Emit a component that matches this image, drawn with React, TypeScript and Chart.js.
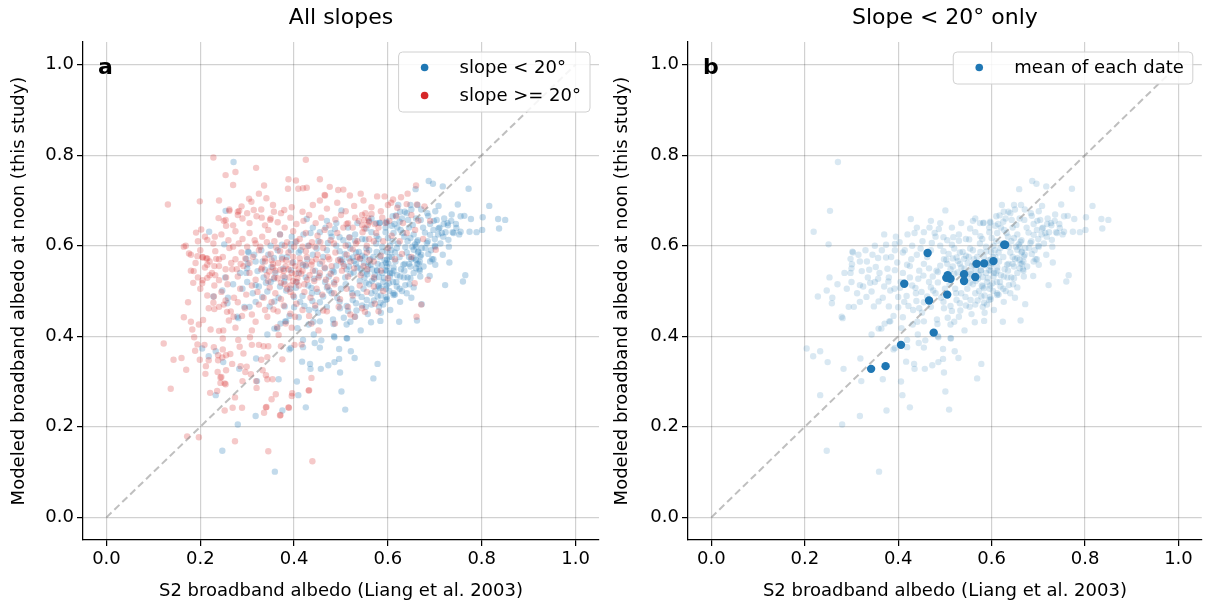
import React, { useEffect, useRef } from "react";
import { Chart, registerables } from "chart.js";

Chart.register(...registerables);

const FONT = "'DejaVu Sans', 'Liberation Sans', sans-serif";

const tickValues = [0, 0.2, 0.4, 0.6, 0.8, 1.0];
const axisMin = -0.05;
const axisMax = 1.05;
const xTitle = "S2 broadband albedo (Liang et al. 2003)";
const yTitle = "Modeled broadband albedo at noon (this study)";
const panelTitles = ["All slopes", "Slope < 20° only"];
const panelLetters = ["a", "b"];
const seriesLabels = ["slope < 20°", "slope >= 20°", "mean of each date"];
const diagonal: [number, number][] = [[0, 0], [1, 1]];

// Blue cloud: slope < 20° (shared by both panels)
const slopeBelow20: [number, number][] = [
  [0.271,0.785],[0.254,0.677],[0.219,0.631],[0.251,0.603],[0.303,0.585],[0.253,0.530],[0.247,0.501],[0.228,0.488],
  [0.259,0.485],[0.258,0.473],[0.281,0.440],[0.204,0.373],[0.218,0.356],[0.233,0.367],[0.249,0.343],[0.283,0.328],
  [0.319,0.351],[0.321,0.301],[0.367,0.305],[0.233,0.270],[0.280,0.205],[0.318,0.224],[0.375,0.236],[0.247,0.147],
  [0.359,0.101],[0.406,0.300],[0.409,0.270],[0.425,0.243],[0.434,0.339],[0.435,0.328],[0.457,0.328],[0.473,0.336],
  [0.486,0.343],[0.501,0.278],[0.509,0.238],[0.498,0.320],[0.521,0.367],[0.529,0.352],[0.578,0.339],[0.569,0.307],
  [0.444,0.385],[0.458,0.391],[0.486,0.398],[0.512,0.396],[0.542,0.413],[0.390,0.371],[0.364,0.417],[0.343,0.404],
  [0.417,0.344],[0.496,0.350],[0.496,0.372],[0.455,0.375],[0.442,0.404],[0.441,0.432],[0.455,0.433],[0.484,0.427],
  [0.512,0.426],[0.520,0.432],[0.485,0.400],[0.513,0.395],[0.564,0.431],[0.584,0.434],[0.393,0.374],[0.381,0.433],
  [0.419,0.376],[0.419,0.392],[0.624,0.432],[0.662,0.435],
  [0.427,0.659],[0.435,0.628],[0.501,0.678],[0.467,0.640],[0.478,0.628],[0.487,0.637],[0.497,0.619],[0.518,0.619],
  [0.530,0.611],[0.554,0.638],[0.565,0.660],[0.582,0.650],[0.597,0.653],[0.576,0.621],[0.552,0.614],[0.403,0.608],
  [0.374,0.602],[0.393,0.604],[0.472,0.606],[0.448,0.594],[0.414,0.590],[0.393,0.590],[0.302,0.587],[0.357,0.573],
  [0.374,0.574],[0.298,0.571],[0.333,0.565],[0.301,0.559],[0.298,0.540],[0.322,0.544],[0.338,0.547],[0.352,0.553],
  [0.377,0.549],[0.340,0.518],[0.357,0.527],[0.318,0.513],[0.279,0.443],[0.294,0.465],[0.305,0.465],[0.318,0.476],
  [0.332,0.487],[0.343,0.499],[0.358,0.477],[0.348,0.466],[0.367,0.485],[0.380,0.466],[0.390,0.445],[0.383,0.433],
  [0.400,0.464],[0.413,0.476],[0.418,0.489],[0.437,0.507],[0.454,0.534],[0.466,0.550],[0.443,0.527],[0.450,0.498],
  [0.475,0.501],[0.485,0.519],[0.485,0.542],[0.524,0.495],[0.517,0.554],[0.503,0.569],[0.525,0.574],[0.551,0.575],
  [0.555,0.543],[0.540,0.522],[0.571,0.527],[0.581,0.510],[0.598,0.554],[0.599,0.586],[0.576,0.586],[0.538,0.586],
  [0.497,0.588],[0.515,0.602],[0.554,0.594],[0.428,0.570],[0.419,0.558],[0.398,0.563],[0.393,0.546],[0.379,0.521],
  [0.383,0.501],[0.404,0.507],[0.400,0.487],[0.422,0.467],[0.439,0.478],[0.432,0.458],[0.451,0.452],[0.470,0.465],
  [0.497,0.476],[0.512,0.467],[0.532,0.473],[0.533,0.457],[0.553,0.465],[0.570,0.479],[0.584,0.474],[0.597,0.487],
  [0.544,0.487],[0.483,0.437],[0.506,0.441],[0.530,0.443],[0.557,0.449],[0.585,0.452],[0.410,0.442],[0.371,0.428],
  [0.358,0.417],[0.407,0.418],[0.431,0.426],
  [0.687,0.743],[0.696,0.737],[0.659,0.725],[0.717,0.731],[0.772,0.726],[0.816,0.688],[0.835,0.659],[0.850,0.657],
  [0.837,0.638],[0.801,0.635],[0.802,0.663],[0.777,0.659],[0.763,0.666],[0.749,0.691],[0.736,0.669],[0.789,0.630],
  [0.774,0.631],[0.755,0.631],[0.731,0.563],[0.717,0.580],[0.701,0.558],[0.722,0.513],[0.760,0.521],[0.765,0.535],
  [0.672,0.471],[0.617,0.667],[0.626,0.675],[0.640,0.672],[0.643,0.657],[0.625,0.653],[0.608,0.644],[0.597,0.651],
  [0.583,0.651],[0.653,0.646],[0.670,0.657],[0.686,0.666],[0.701,0.676],[0.708,0.688],[0.663,0.690],[0.704,0.657],
  [0.720,0.660],[0.727,0.650],[0.715,0.628],[0.697,0.635],[0.679,0.629],[0.690,0.624],[0.708,0.638],[0.746,0.639],
  [0.740,0.628],[0.729,0.613],[0.701,0.598],[0.683,0.606],[0.662,0.609],[0.648,0.617],[0.632,0.628],[0.612,0.628],
  [0.600,0.617],[0.604,0.600],[0.619,0.595],[0.637,0.597],[0.655,0.591],[0.665,0.587],[0.669,0.576],[0.660,0.569],
  [0.655,0.573],[0.665,0.561],[0.676,0.554],[0.690,0.565],[0.697,0.570],[0.648,0.554],[0.633,0.558],[0.616,0.565],
  [0.598,0.569],[0.588,0.587],[0.577,0.546],[0.595,0.546],[0.609,0.539],[0.626,0.532],[0.648,0.528],[0.669,0.532],
  [0.689,0.533],[0.637,0.513],[0.619,0.510],[0.602,0.517],[0.584,0.506],[0.612,0.491],[0.595,0.480],[0.626,0.476],
  [0.581,0.465],[0.605,0.458],
  [0.505,0.560],[0.512,0.548],[0.520,0.538],[0.528,0.566],[0.535,0.552],[0.544,0.540],[0.550,0.530],[0.558,0.556],
  [0.562,0.570],[0.566,0.548],[0.572,0.536],[0.578,0.560],[0.583,0.575],[0.588,0.540],[0.592,0.528],[0.596,0.562],
  [0.603,0.575],[0.607,0.590],[0.612,0.552],[0.588,0.598],[0.575,0.605],[0.560,0.590],[0.545,0.578],[0.532,0.585],
  [0.520,0.594],[0.508,0.582],[0.498,0.570],[0.490,0.556],[0.482,0.545],[0.474,0.532],[0.466,0.520],[0.470,0.508],
  [0.480,0.495],[0.492,0.485],[0.500,0.505],[0.510,0.515],[0.522,0.505],[0.535,0.495],[0.548,0.505],[0.560,0.515],
  [0.573,0.500],[0.585,0.490],[0.596,0.505],[0.555,0.480],[0.545,0.468],[0.565,0.470],[0.525,0.480],[0.515,0.456],
  [0.498,0.462],[0.462,0.488],[0.455,0.475],[0.445,0.462],[0.438,0.495],[0.430,0.512],[0.425,0.530],[0.445,0.545],
  [0.455,0.560],[0.462,0.575],[0.440,0.580],[0.425,0.555],[0.410,0.540],[0.405,0.520],[0.392,0.505],[0.380,0.530],
  [0.370,0.510],[0.360,0.540],[0.350,0.520],[0.335,0.530],[0.325,0.510],[0.312,0.495],[0.300,0.520],[0.290,0.505],
  [0.318,0.565],[0.345,0.580],[0.365,0.590],[0.385,0.575],[0.410,0.585],[0.430,0.600],[0.452,0.610],[0.470,0.590],
  [0.490,0.600],[0.505,0.612],[0.530,0.625],[0.545,0.615],[0.565,0.630],[0.580,0.615],[0.595,0.630],[0.610,0.610],
  [0.620,0.640],[0.630,0.660],[0.645,0.640],[0.655,0.625],[0.635,0.620],[0.622,0.605],[0.640,0.585],[0.650,0.570],
  [0.660,0.550],[0.655,0.540],[0.645,0.560],[0.635,0.545],[0.625,0.575],[0.615,0.585],[0.605,0.540],[0.618,0.520],
  [0.630,0.500],[0.642,0.530],[0.668,0.545],[0.672,0.595],[0.685,0.610],[0.692,0.590],[0.700,0.615],[0.710,0.640],
  [0.718,0.620],[0.728,0.645],[0.735,0.655],[0.745,0.648],[0.755,0.665],[0.738,0.630],[0.752,0.625],[0.690,0.648],
  [0.675,0.640],[0.660,0.660],[0.650,0.680],[0.610,0.665],[0.595,0.640],[0.575,0.650],[0.560,0.655],[0.535,0.650],
  [0.515,0.640],[0.490,0.650],[0.470,0.655],[0.480,0.620],[0.455,0.630],[0.440,0.640],[0.420,0.625],[0.395,0.620],
  [0.370,0.625],[0.350,0.600],[0.330,0.590],[0.315,0.580],[0.300,0.550],[0.285,0.540],[0.270,0.515],
  [0.532,0.560],[0.541,0.571],[0.549,0.562],[0.556,0.537],[0.563,0.558],[0.569,0.575],[0.577,0.545],[0.581,0.531],
  [0.587,0.557],[0.593,0.568],[0.598,0.545],[0.601,0.561],[0.604,0.532],[0.608,0.575],[0.611,0.520],[0.597,0.512],
  [0.590,0.520],[0.579,0.512],[0.566,0.522],[0.553,0.518],[0.542,0.549],[0.527,0.541],[0.517,0.572],[0.509,0.530],
  [0.603,0.500],[0.612,0.495],[0.598,0.482],[0.590,0.470],[0.578,0.488],[0.565,0.495],[0.660,0.598],[0.664,0.585],
  [0.668,0.565],[0.662,0.560],[0.667,0.548],[0.671,0.580],[0.658,0.603],[0.664,0.612],[0.680,0.595],[0.686,0.582],
  [0.694,0.570],[0.700,0.600],[0.707,0.625],[0.712,0.605],[0.723,0.630],[0.730,0.598],[0.719,0.648],[0.698,0.655],
  [0.684,0.672],[0.671,0.680],[0.648,0.690],[0.636,0.675],[0.622,0.690],[0.614,0.648],[0.627,0.635],[0.642,0.610],
  [0.652,0.598],[0.645,0.575],[0.636,0.560],[0.628,0.548],[0.620,0.535],[0.612,0.545],[0.634,0.530],[0.646,0.515],
  [0.655,0.508],[0.625,0.505],[0.615,0.492],[0.640,0.495],[0.650,0.485],
];

// Red cloud: slope >= 20° (panel a only)
const slopeAbove20: [number, number][] = [
  [0.228,0.795],[0.425,0.790],[0.319,0.772],[0.254,0.756],[0.275,0.763],[0.270,0.734],[0.388,0.747],[0.404,0.744],
  [0.131,0.691],[0.199,0.698],[0.240,0.700],[0.288,0.687],[0.309,0.697],[0.336,0.733],[0.325,0.715],[0.387,0.726],
  [0.409,0.726],[0.427,0.728],[0.466,0.711],[0.476,0.730],[0.505,0.724],[0.519,0.711],[0.542,0.715],[0.593,0.709],
  [0.611,0.702],[0.628,0.707],[0.642,0.715],[0.660,0.733],[0.678,0.687],[0.662,0.691],[0.607,0.695],[0.455,0.747],
  [0.465,0.712],[0.494,0.723],[0.577,0.709],[0.550,0.657],[0.557,0.646],[0.690,0.655],[0.702,0.591],[0.657,0.517],
  [0.661,0.443],[0.283,0.677],[0.304,0.704],[0.341,0.705],[0.262,0.677],[0.239,0.661],[0.254,0.657],[0.255,0.644],
  [0.280,0.675],[0.314,0.679],[0.331,0.662],[0.349,0.657],[0.357,0.675],[0.379,0.679],[0.419,0.727],[0.202,0.636],
  [0.191,0.629],[0.169,0.600],[0.176,0.583],[0.213,0.572],[0.215,0.613],[0.231,0.620],[0.215,0.558],[0.204,0.517],
  [0.174,0.475],[0.165,0.442],
  [0.194,0.577],[0.205,0.574],[0.186,0.544],[0.185,0.518],[0.215,0.529],[0.205,0.524],[0.230,0.555],[0.220,0.535],
  [0.234,0.571],[0.229,0.488],[0.228,0.474],[0.218,0.462],[0.206,0.436],[0.197,0.426],[0.180,0.432],[0.183,0.415],
  [0.187,0.398],[0.194,0.382],[0.209,0.381],[0.189,0.368],[0.199,0.348],[0.122,0.384],[0.143,0.348],[0.160,0.352],
  [0.170,0.326],[0.137,0.284],[0.211,0.317],[0.212,0.334],[0.229,0.376],[0.238,0.347],[0.247,0.353],[0.248,0.395],
  [0.240,0.412],[0.222,0.415],[0.237,0.321],[0.245,0.310],[0.221,0.275],[0.236,0.279],[0.252,0.296],[0.252,0.236],
  [0.269,0.242],[0.274,0.265],[0.274,0.168],[0.172,0.179],[0.197,0.177],[0.345,0.146],[0.439,0.124],[0.289,0.242],
  [0.308,0.316],[0.320,0.286],[0.343,0.305],[0.352,0.261],[0.341,0.244],[0.370,0.225],[0.389,0.242],[0.395,0.268],
  [0.431,0.280],[0.437,0.308],[0.264,0.361],[0.268,0.339],[0.286,0.334],[0.284,0.377],[0.292,0.362],[0.306,0.398],
  [0.310,0.381],[0.325,0.381],[0.335,0.378],[0.345,0.378],[0.343,0.354],[0.330,0.348],[0.372,0.378],[0.375,0.349],
  [0.401,0.381],[0.416,0.382],[0.364,0.420],[0.367,0.403],[0.382,0.428],[0.395,0.419],[0.275,0.419],[0.281,0.392],
  [0.249,0.413],[0.261,0.435],[0.318,0.432],[0.310,0.413],[0.343,0.443],[0.356,0.459],[0.289,0.445],[0.271,0.443],
  [0.257,0.454],[0.240,0.465],[0.254,0.479],[0.240,0.524],[0.671,0.470],[0.685,0.525],[0.487,0.428],[0.529,0.443],
  [0.515,0.465],[0.551,0.454],[0.572,0.472],[0.437,0.428],[0.452,0.413],[0.402,0.443],[0.462,0.457],[0.254,0.294],
  [0.243,0.297],[0.243,0.309],[0.255,0.325],[0.218,0.347],[0.238,0.358],[0.255,0.358],[0.248,0.371],[0.299,0.333],
  [0.290,0.301],[0.296,0.321],[0.333,0.325],[0.319,0.301],[0.340,0.314],[0.354,0.305],[0.361,0.272],[0.340,0.243],
  [0.336,0.231],[0.388,0.243],[0.371,0.226],[0.396,0.274],[0.432,0.281],
  [0.330,0.680],[0.355,0.690],[0.372,0.672],[0.395,0.685],[0.418,0.675],[0.440,0.690],[0.455,0.700],[0.470,0.682],
  [0.492,0.695],[0.510,0.676],[0.528,0.688],[0.548,0.700],[0.565,0.685],[0.585,0.676],[0.600,0.690],[0.620,0.684],
  [0.640,0.692],[0.300,0.672],[0.280,0.668],[0.262,0.680],
  [0.250,0.655],[0.270,0.645],[0.290,0.660],[0.305,0.650],[0.320,0.665],[0.338,0.645],[0.350,0.660],[0.365,0.652],
  [0.380,0.640],[0.392,0.662],[0.405,0.648],[0.420,0.655],[0.432,0.668],[0.446,0.650],[0.458,0.662],[0.475,0.645],
  [0.488,0.658],[0.500,0.668],[0.515,0.650],[0.530,0.662],[0.545,0.645],[0.558,0.660],[0.572,0.648],[0.588,0.662],
  [0.603,0.655],[0.618,0.665],[0.632,0.650],[0.650,0.668],[0.665,0.655],[0.545,0.668],[0.552,0.672],[0.560,0.652],
  [0.195,0.610],[0.210,0.620],[0.228,0.605],[0.245,0.625],[0.260,0.612],[0.275,0.632],[0.290,0.615],[0.305,0.628],
  [0.318,0.605],[0.332,0.620],[0.345,0.635],[0.358,0.610],[0.370,0.625],[0.385,0.608],[0.398,0.632],[0.412,0.615],
  [0.425,0.628],[0.438,0.608],[0.450,0.622],[0.465,0.635],[0.478,0.612],[0.492,0.628],[0.505,0.640],[0.518,0.618],
  [0.532,0.605],[0.546,0.630],[0.560,0.615],[0.575,0.628],[0.590,0.610],[0.608,0.622],[0.625,0.610],[0.640,0.628],
  [0.658,0.635],[0.675,0.615],
  [0.165,0.598],[0.180,0.580],[0.200,0.590],[0.215,0.572],[0.232,0.588],[0.248,0.575],[0.262,0.595],[0.275,0.570],
  [0.288,0.585],[0.300,0.598],[0.312,0.575],[0.325,0.590],[0.338,0.565],[0.350,0.582],[0.362,0.596],[0.375,0.570],
  [0.388,0.585],[0.400,0.598],[0.412,0.572],[0.425,0.588],[0.438,0.565],[0.450,0.580],[0.462,0.595],[0.475,0.570],
  [0.488,0.585],[0.500,0.565],[0.512,0.580],[0.525,0.592],[0.540,0.572],[0.555,0.585],[0.570,0.565],[0.585,0.578],
  [0.600,0.595],[0.615,0.570],[0.630,0.582],[0.650,0.575],[0.305,0.562],[0.355,0.560],[0.395,0.562],[0.445,0.598],
  [0.370,0.588],[0.418,0.598],
  [0.180,0.545],[0.195,0.530],[0.210,0.552],[0.225,0.540],[0.240,0.555],[0.255,0.530],[0.268,0.548],[0.280,0.532],
  [0.292,0.555],[0.305,0.540],[0.318,0.525],[0.330,0.548],[0.342,0.535],[0.355,0.552],[0.365,0.528],[0.378,0.545],
  [0.390,0.530],[0.402,0.555],[0.415,0.538],[0.428,0.525],[0.440,0.545],[0.452,0.530],[0.465,0.552],[0.478,0.538],
  [0.490,0.525],[0.502,0.545],[0.515,0.532],[0.528,0.550],[0.542,0.535],[0.556,0.548],[0.570,0.530],[0.585,0.545],
  [0.600,0.528],[0.345,0.522],[0.372,0.518],[0.398,0.522],[0.382,0.555],[0.410,0.548],[0.425,0.558],[0.395,0.540],
  [0.360,0.545],
  [0.200,0.505],[0.215,0.490],[0.230,0.512],[0.245,0.498],[0.258,0.515],[0.272,0.485],[0.285,0.505],[0.298,0.492],
  [0.310,0.512],[0.322,0.498],[0.335,0.485],[0.348,0.508],[0.360,0.495],[0.372,0.482],[0.385,0.505],[0.398,0.490],
  [0.410,0.512],[0.422,0.498],[0.435,0.485],[0.448,0.505],[0.460,0.492],[0.472,0.510],[0.485,0.495],[0.498,0.482],
  [0.512,0.505],[0.525,0.490],[0.540,0.512],[0.555,0.498],[0.570,0.510],[0.590,0.500],[0.380,0.515],[0.392,0.498],
  [0.405,0.520],
  [0.230,0.460],[0.250,0.470],[0.265,0.455],[0.280,0.475],[0.295,0.462],[0.310,0.448],[0.325,0.470],[0.338,0.458],
  [0.352,0.475],[0.365,0.455],[0.378,0.468],[0.392,0.450],[0.405,0.472],[0.418,0.458],[0.432,0.445],[0.445,0.468],
  [0.470,0.455],[0.495,0.465],[0.520,0.448],[0.545,0.462],[0.580,0.455],
  [0.332,0.552],[0.338,0.572],[0.347,0.543],[0.352,0.568],[0.358,0.530],[0.366,0.562],[0.371,0.547],[0.377,0.533],
  [0.383,0.568],[0.388,0.548],[0.393,0.512],[0.398,0.575],[0.403,0.538],[0.407,0.528],[0.413,0.562],[0.418,0.545],
  [0.422,0.515],[0.427,0.575],[0.433,0.535],[0.437,0.558],[0.443,0.522],[0.447,0.570],[0.455,0.540],[0.460,0.565],
  [0.468,0.525],[0.472,0.575],[0.480,0.555],[0.486,0.515],[0.494,0.568],[0.506,0.555],[0.520,0.565],[0.535,0.575],
  [0.548,0.555],[0.560,0.568],[0.296,0.572],[0.286,0.560],[0.278,0.548],[0.266,0.562],[0.254,0.548],[0.240,0.570],
  [0.232,0.535],[0.220,0.565],[0.205,0.575],[0.190,0.562],[0.270,0.598],[0.282,0.605],[0.316,0.612],[0.328,0.598],
  [0.342,0.608],[0.380,0.600],[0.405,0.610],[0.432,0.600],[0.456,0.608],[0.485,0.605],[0.510,0.600],[0.535,0.610],
  [0.555,0.600],[0.570,0.610],[0.512,0.648],[0.525,0.640],[0.538,0.655],[0.550,0.638],[0.565,0.670],[0.580,0.640],
  [0.595,0.650],
];

// Panel b: mean of each date
const dateMeans: [number, number][] = [
  [0.463,0.584],[0.413,0.516],[0.466,0.479],[0.505,0.492],[0.476,0.408],[0.406,0.381],[0.373,0.334],[0.342,0.328],
  [0.506,0.535],[0.512,0.527],[0.503,0.529],[0.541,0.537],[0.541,0.522],[0.565,0.531],[0.568,0.560],[0.584,0.561],
  [0.604,0.566],[0.627,0.602],[0.629,0.602],
];

const toXY = (arr: [number, number][]) => arr.map(([x, y]) => ({ x, y }));

const BLUE = "#1f77b4";
const RED = "#d62728";

const decorPlugin = {
  id: "decor",
  afterDraw(chart: any, _args: any, opts: any) {
    const { ctx, chartArea: ca } = chart;
    ctx.save();
    ctx.fillStyle = "#000";
    ctx.textBaseline = "middle";
    ctx.textAlign = "center";
    ctx.font = `22px ${FONT}`;
    ctx.fillText(opts.title, (ca.left + ca.right) / 2, 18);
    ctx.textAlign = "left";
    ctx.font = `bold 22px ${FONT}`;
    ctx.fillText(opts.letter, ca.left + 15, ca.top + 26);

    const items = chart.data.datasets.filter((d: any) => d.inLegend);
    if (items.length) {
      ctx.font = `18px ${FONT}`;
      const tw = Math.max(...items.map((d: any) => ctx.measureText(d.label).width));
      const rowH = 28;
      const w = 61 + tw + 9;
      const h = 15.5 + (items.length - 1) * rowH + 16.5;
      const right = ca.right - 9;
      const left = right - w;
      const top = ca.top + 10;
      const r = 4;
      ctx.beginPath();
      ctx.moveTo(left + r, top);
      ctx.lineTo(left + w - r, top);
      ctx.arcTo(left + w, top, left + w, top + r, r);
      ctx.lineTo(left + w, top + h - r);
      ctx.arcTo(left + w, top + h, left + w - r, top + h, r);
      ctx.lineTo(left + r, top + h);
      ctx.arcTo(left, top + h, left, top + h - r, r);
      ctx.lineTo(left, top + r);
      ctx.arcTo(left, top, left + r, top, r);
      ctx.closePath();
      ctx.fillStyle = "rgba(255,255,255,0.85)";
      ctx.fill();
      ctx.strokeStyle = "#d0d0d0";
      ctx.lineWidth = 1;
      ctx.stroke();
      items.forEach((d: any, i: number) => {
        const cy = top + 15.5 + i * rowH;
        ctx.beginPath();
        ctx.arc(left + 26, cy, 3.8, 0, Math.PI * 2);
        ctx.fillStyle = d.legendColor;
        ctx.fill();
        ctx.fillStyle = "#000";
        ctx.textAlign = "left";
        ctx.fillText(d.label, left + 61, cy + 1);
      });
    }
    ctx.restore();
  },
};

function makeScale(axis: "x" | "y", title: string, fitSize: number) {
  return {
    type: "linear",
    min: axisMin,
    max: axisMax,
    afterBuildTicks: (s: any) => {
      s.ticks = tickValues.map((v) => ({ value: v }));
    },
    afterFit: (s: any) => {
      if (axis === "x") s.height = fitSize;
      else s.width = fitSize;
    },
    grid: {
      color: "rgba(0,0,0,0.18)",
      lineWidth: 1.2,
      drawTicks: true,
      tickLength: 6,
      tickColor: "#000",
      tickWidth: 1.25,
    },
    border: { display: true, color: "#000", width: 1.25 },
    ticks: {
      color: "#000",
      font: { family: FONT, size: 18 },
      padding: 3,
      autoSkip: false,
      maxRotation: 0,
      callback: (v: any) => Number(v).toFixed(1),
    },
    title: {
      display: true,
      text: title,
      color: "#000",
      font: { family: FONT, size: 18 },
      padding: axis === "x" ? { top: 0, bottom: 1 } : { top: 9, bottom: 0 },
    },
  };
}

function diagonalDataset(order: number) {
  return {
    type: "line",
    label: "1:1",
    data: toXY(diagonal),
    showLine: true,
    borderColor: "rgba(128,128,128,0.5)",
    borderWidth: 2,
    borderDash: [7, 4],
    pointRadius: 0,
    fill: false,
    order,
  };
}

function baseOptions(title: string, letter: string, yWidth: number) {
  return {
    responsive: false,
    animation: false,
    events: [],
    layout: { padding: { left: 0, right: 0, top: 42, bottom: 0 } },
    plugins: {
      legend: { display: false },
      tooltip: { enabled: false },
      title: { display: false },
      decor: { title, letter },
    },
    scales: {
      x: makeScale("x", xTitle, 63),
      y: makeScale("y", yTitle, yWidth),
    },
  };
}

function Panel({ which }: { which: 0 | 1 }) {
  const ref = useRef<HTMLCanvasElement | null>(null);
  useEffect(() => {
    if (!ref.current) return;
    const datasets: any[] =
      which === 0
        ? [
            {
              label: seriesLabels[0],
              data: toXY(slopeBelow20),
              backgroundColor: "rgba(31,119,180,0.27)",
              pointRadius: 3.2,
              pointBorderWidth: 0,
              order: 3,
              inLegend: true,
              legendColor: BLUE,
            },
            {
              label: seriesLabels[1],
              data: toXY(slopeAbove20),
              backgroundColor: "rgba(214,39,40,0.25)",
              pointRadius: 3.2,
              pointBorderWidth: 0,
              order: 2,
              inLegend: true,
              legendColor: RED,
            },
            diagonalDataset(1),
          ]
        : [
            {
              label: seriesLabels[0],
              data: toXY(slopeBelow20),
              backgroundColor: "rgba(31,119,180,0.17)",
              pointRadius: 3.2,
              pointBorderWidth: 0,
              order: 3,
              inLegend: false,
            },
            diagonalDataset(2),
            {
              label: seriesLabels[2],
              data: toXY(dateMeans),
              backgroundColor: BLUE,
              pointRadius: 4.2,
              pointBorderWidth: 0,
              order: 1,
              inLegend: true,
              legendColor: BLUE,
            },
          ];
    const chart = new Chart(ref.current, {
      type: "scatter",
      data: { datasets },
      options: baseOptions(panelTitles[which], panelLetters[which], which === 0 ? 83 : 85) as any,
      plugins: [decorPlugin as any],
    } as any);
    return () => chart.destroy();
  }, [which]);
  return (
    <canvas
      ref={ref}
      width={603}
      height={603}
      style={{ position: "absolute", left: which === 0 ? 0 : 603, top: 0, width: 603, height: 603 }}
    />
  );
}

export default function App() {
  return (
    <div style={{ position: "fixed", left: 0, top: 0, width: 1206, height: 603, background: "#fff" }}>
      <Panel which={0} />
      <Panel which={1} />
    </div>
  );
}
